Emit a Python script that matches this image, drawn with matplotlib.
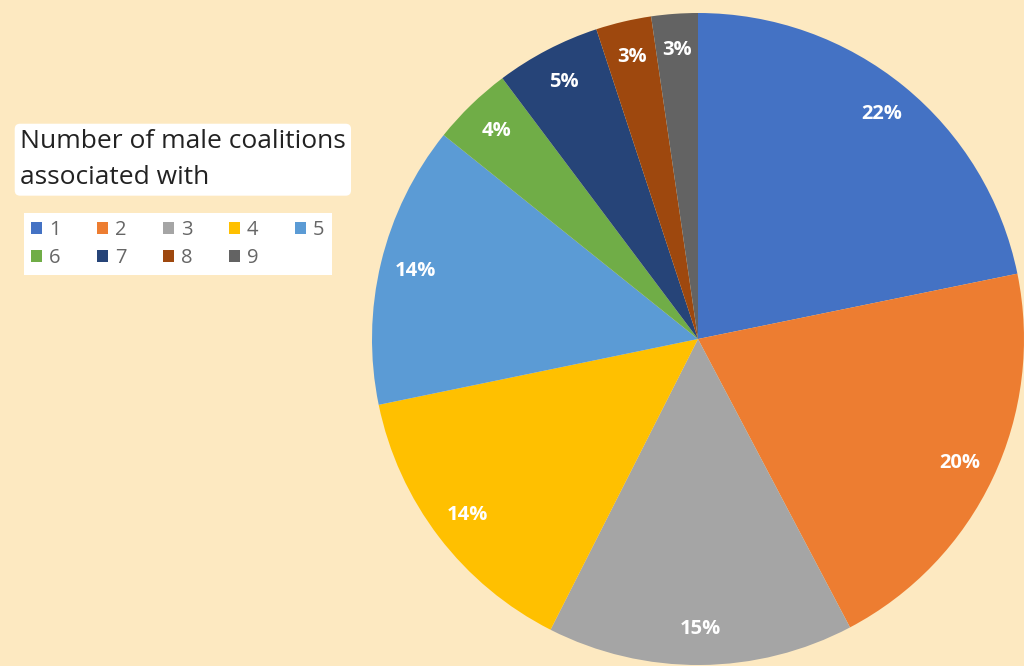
import matplotlib.pyplot as plt
from matplotlib.patches import Patch

# ── Data ──
categories = ["1", "2", "3", "4", "5", "6", "7", "8", "9"]
# slice sizes (%)
shares = [21.8, 20.5, 15.2, 14.3, 14.0, 4.0, 5.2, 2.75, 2.3]
# data labels as printed on the chart
pct_labels = ["22%", "20%", "15%", "14%", "14%", "4%", "5%", "3%", "3%"]
colors = ["#4472C4", "#ED7D31", "#A5A5A5", "#FFC000", "#5B9BD5",
          "#70AD47", "#264478", "#9E480E", "#636363"]
legend_title = "Number of male coalitions\nassociated with"

BG = "#FDE9C1"

plt.rcParams["font.family"] = ["Open Sans", "DejaVu Sans"]

fig = plt.figure(figsize=(10.24, 6.66), dpi=100)
fig.patch.set_facecolor(BG)

# pie axes: centre ~ (698, 339) px, radius ~ 326 px
W, H = 1024, 666
cx, cy, r = 698, 339, 326
ax = fig.add_axes([(cx - r) / W, (H - cy - r) / H, 2 * r / W, 2 * r / H])
ax.set_facecolor(BG)

lbl_iter = iter(pct_labels)
wedges, _, autotexts = ax.pie(
    shares, colors=colors, startangle=90, counterclock=False,
    autopct=lambda p: next(lbl_iter), pctdistance=0.89,
    wedgeprops=dict(edgecolor="none"),
    textprops=dict(color="white", fontsize=14.5, fontweight="bold"),
)
ax.set_xlim(-1, 1)
ax.set_ylim(-1, 1)
ax.set_aspect("equal")
ax.axis("off")

# ── Legend (title + 5-col entries on white) ──
fig.text(20 / W, 1 - 129 / H, legend_title, fontsize=19, color="#222222",
         ha="left", va="top", linespacing=1.6,
         bbox=dict(boxstyle="round,pad=0.2", fc="white", ec="none"))

# reorder so the 5-column legend reads row by row
order = [0, 5, 1, 6, 2, 7, 3, 8, 4]
handles = [Patch(facecolor=colors[i], edgecolor="none", label=categories[i])
           for i in order]
leg = fig.legend(handles=handles, ncol=5, loc="upper left",
                 bbox_to_anchor=(14 / W, 1 - 203 / H), fontsize=14.5,
                 frameon=True, fancybox=False, framealpha=1,
                 handlelength=0.55, handleheight=0.55, handletextpad=0.35,
                 columnspacing=1.8, labelspacing=0.38, borderpad=0.35)
leg.get_frame().set_facecolor("white")
leg.get_frame().set_edgecolor("none")
for t in leg.get_texts():
    t.set_color("#666666")

fig.savefig("out.png", dpi=100, facecolor=BG)
